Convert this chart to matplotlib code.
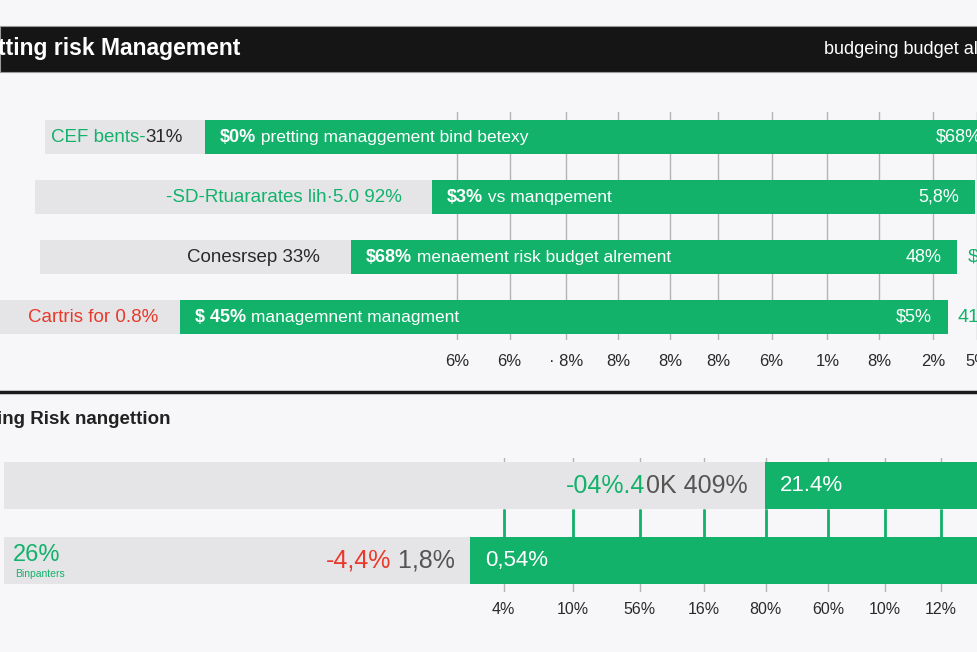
import matplotlib
matplotlib.use("Agg")
import matplotlib.pyplot as plt
from matplotlib.patches import Rectangle
from matplotlib.lines import Line2D

plt.rcParams['font.family'] = ['Liberation Sans', 'DejaVu Sans']

GREEN = '#12b26b'
GREY_BAR = '#e5e5e7'
BG = '#f7f7f9'
RED = '#e8392b'
DARK = '#2a2a2a'
MID = '#555555'

# --- data, top panel ---
top_rows = [0, 1, 2, 3]
top_grey_start = [4.6, 3.6, 4.1, 0.0]
top_green_start = [21.0, 44.2, 35.9, 18.4]
top_green_end = [102.0, 99.7, 97.9, 96.9]
top_label = ['CEF bents-', '-SD-Rtuararates lih\u00b75.0 92%', 'Conesrsep 33%', 'Cartris for 0.8%']
top_label_tail = ['31%', '', '', '']
top_label_right = [18.7, 41.1, 32.7, 16.2]
top_label_color = [GREEN, GREEN, DARK, RED]
top_bar_head = ['$0%', '$3%', '$68%', '$ 45%']
top_bar_text = [' pretting managgement bind betexy', ' vs manqpement',
                ' menaement risk budget alrement', ' managemnent managment']
top_value = ['$68%', '5,8%', '48%', '$5%']
top_outside = ['', '', '$', '41%']
top_ticks = [46.7, 52.1, 57.9, 63.2, 68.5, 73.4, 78.9, 84.6, 89.9, 95.4, 99.9]
top_ticklabels = ['6%', '6%', '\u00b7 8%', '8%', '8%', '8%', '6%', '1%', '8%', '2%', '5%']

# --- data, bottom panel ---
bot_rows = [0, 1]
bot_grey_start = [0.4, 0.4]
bot_green_start = [78.2, 48.1]
bot_green_end = [100.0, 100.0]
bot_label_a = ['-04%.4', '-4,4%']
bot_label_b = ['0K 409%', ' 1,8%']
bot_label_a_color = [GREEN, RED]
bot_label_right = [76.4, 46.5]
bot_value = ['21.4%', '0,54%']
bot_side_value = '26%'
bot_side_caption = 'Binpanters'
bot_ticks = [51.5, 58.6, 65.4, 72.0, 78.3, 84.7, 90.5, 96.2]
bot_ticklabels = ['4%', '10%', '56%', '16%', '80%', '60%', '10%', '12%']

fig = plt.figure(figsize=(9.78, 6.52), dpi=100, facecolor=BG)

# banner
fig.patches.append(Rectangle((0, 1 - 72 / 652), 1, 46 / 652, transform=fig.transFigure,
                             facecolor='#151515', edgecolor='#9a9a9a', lw=0.8, zorder=0))
fig.text(-0.002, 1 - 49 / 652, 'tting risk Management', color='white', fontsize=16.5,
         fontweight='bold', va='center', ha='left')
fig.text(0.843, 1 - 49 / 652, 'budgeing budget al', color='white', fontsize=13,
         va='center', ha='left')

# separator line
fig.add_artist(Line2D([0, 1], [1 - 392 / 652] * 2, transform=fig.transFigure,
                      color='#1a1a1a', lw=2.5))
fig.text(-0.003, 1 - 420 / 652, 'ing Risk nangettion', color='#222222', fontsize=13.5,
         fontweight='bold', va='center', ha='left')

# ---------- top panel ----------
ax = fig.add_axes([0, 1 - 340 / 652, 1, 228 / 652])
ax.set_facecolor('none')
ax.set_xlim(0, 100)
ax.set_ylim(3.383, -0.417)
bh = 0.567
ax.barh(top_rows, [g - s for s, g in zip(top_grey_start, top_green_start)], left=top_grey_start,
        height=bh, color=GREY_BAR, zorder=1)
ax.barh(top_rows, [e - s for s, e in zip(top_green_start, top_green_end)],
        left=top_green_start, height=bh, color=GREEN, zorder=2)
ax.set_xticks(top_ticks)
ax.set_xticklabels(top_ticklabels, fontsize=12, color=DARK)
ax.tick_params(axis='x', length=0, pad=10)
ax.set_yticks([])
for s in ax.spines.values():
    s.set_visible(False)
ax.set_axisbelow(True)
ax.grid(axis='x', color='#b4b4b4', lw=1)

for i, r in enumerate(top_rows):
    t = ax.text(top_label_right[i], r, top_label_tail[i] if top_label_tail[i] else top_label[i],
                color=DARK if top_label_tail[i] else top_label_color[i],
                fontsize=13.5, ha='right', va='center', zorder=3)
    if top_label_tail[i]:
        ax.annotate(top_label[i], xy=(0, 0.5), xycoords=t, color=top_label_color[i],
                    fontsize=13.5, ha='right', va='center')
    h = ax.text(top_green_start[i] + 1.5, r, top_bar_head[i], color='white',
                fontsize=13, fontweight='bold', ha='left', va='center', zorder=3)
    ax.annotate(top_bar_text[i], xy=(1, 0.5), xycoords=h, color='white',
                fontsize=12.5, ha='left', va='center')
    ax.text(top_green_end[i] - 1.6, r, top_value[i], color='white', fontsize=13,
            ha='right', va='center', zorder=3)
    if top_outside[i]:
        ax.text(top_green_end[i] + 1.0, r, top_outside[i], color=GREEN, fontsize=14,
                ha='left', va='center', zorder=3)

# ---------- bottom panel ----------
bx = fig.add_axes([0, 1 - 592 / 652, 1, 134 / 652])
bx.set_facecolor('none')
bx.set_xlim(0, 100)
bx.set_ylim(1.432, -0.378)
bh2 = 0.635
bx.barh(bot_rows, [g - s for s, g in zip(bot_grey_start, bot_green_start)], left=bot_grey_start,
        height=bh2, color=GREY_BAR, zorder=1)
bx.barh(bot_rows, [e - s for s, e in zip(bot_green_start, bot_green_end)],
        left=bot_green_start, height=bh2, color=GREEN, zorder=2)
bx.set_xticks(bot_ticks)
bx.set_xticklabels(bot_ticklabels, fontsize=11.5, color=DARK)
bx.tick_params(axis='x', length=0, pad=7)
bx.set_yticks([])
for s in bx.spines.values():
    s.set_visible(False)
bx.set_axisbelow(True)
bx.grid(axis='x', color='#b4b4b4', lw=1)
bx.vlines(bot_ticks, bot_rows[0] + bh2 / 2, bot_rows[1] - bh2 / 2, color=GREEN, lw=2, zorder=0.9)

for i, r in enumerate(bot_rows):
    t = bx.text(bot_label_right[i], r, bot_label_b[i], color=MID, fontsize=18,
                ha='right', va='center', zorder=3)
    bx.annotate(bot_label_a[i], xy=(0, 0.5), xycoords=t, color=bot_label_a_color[i],
                fontsize=18, ha='right', va='center')
    bx.text(bot_green_start[i] + 1.5, r, bot_value[i], color='white', fontsize=16,
            ha='left', va='center', zorder=3)

bx.text(1.3, bot_rows[1] - 0.07, bot_side_value, color=GREEN, fontsize=17,
        ha='left', va='center', zorder=3)
bx.text(1.5, bot_rows[1] + 0.19, bot_side_caption, color=GREEN, fontsize=7.5,
        ha='left', va='center', zorder=3)

fig.savefig('out.png', dpi=100, facecolor=BG)
